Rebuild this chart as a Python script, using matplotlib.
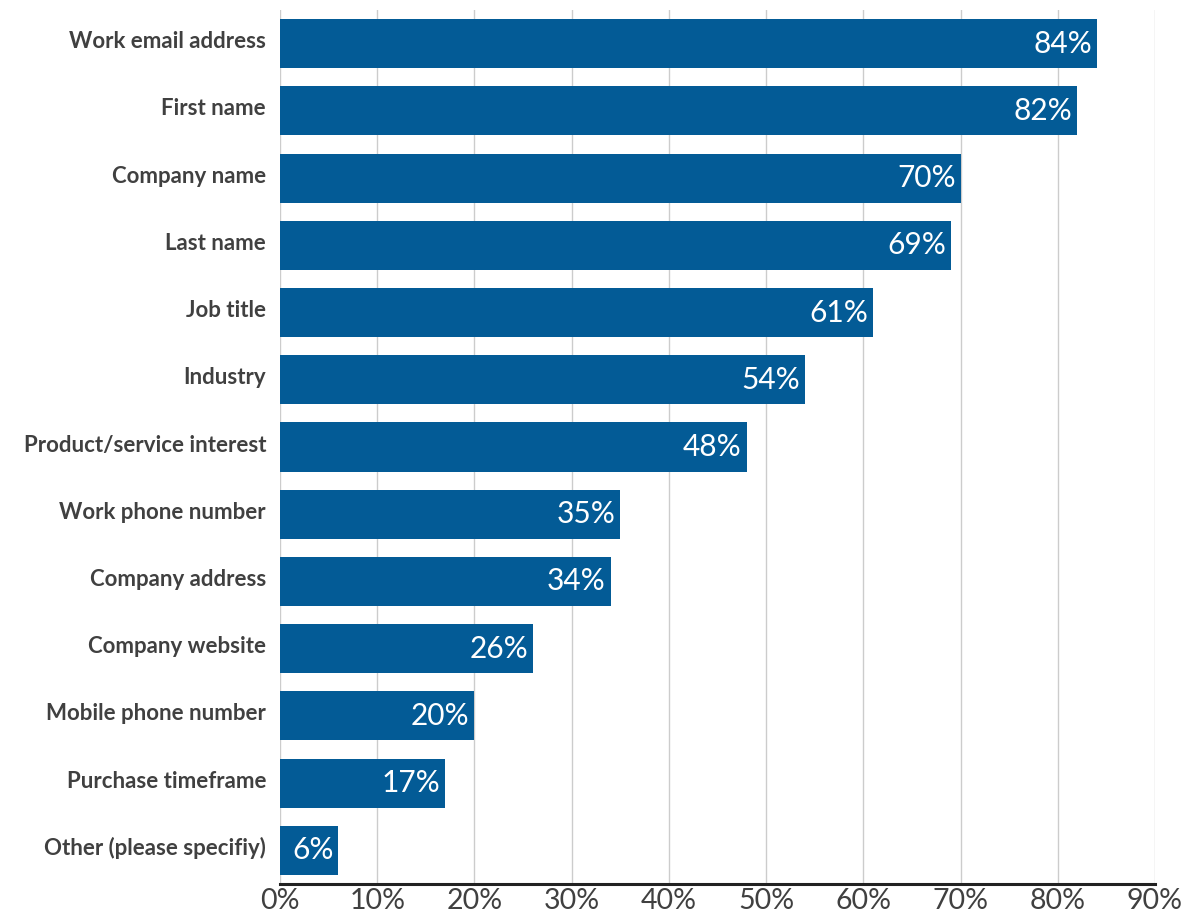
import matplotlib
matplotlib.use("Agg")
import matplotlib.pyplot as plt
import matplotlib.transforms as mtrans
from matplotlib.ticker import MultipleLocator, FuncFormatter

categories = [
    "Work email address", "First name", "Company name", "Last name",
    "Job title", "Industry", "Product/service interest", "Work phone number",
    "Company address", "Company website", "Mobile phone number",
    "Purchase timeframe", "Other (please specifiy)",
]
values = [84, 82, 70, 69, 61, 54, 48, 35, 34, 26, 20, 17, 6]

plt.rcParams["font.family"] = ["Lato", "DejaVu Sans"]

W, H = 1196, 917
fig = plt.figure(figsize=(W / 100, H / 100), dpi=100)
ax = fig.add_axes([280 / W, 33 / H, (1155 - 280) / W, (884 - 10) / H])

pos = list(range(len(categories)))
ax.barh(pos, values, height=0.73, color="#035b96", zorder=2)
ax.set_ylim(12.5, -0.5)
ax.set_xlim(0, 90)

for y, v in zip(pos, values):
    ax.text(v - 0.5, y, f"{v}%", ha="right", va="center", color="white",
            fontsize=21.5, zorder=3)

ax.set_yticks(pos)
ax.set_yticklabels(categories, fontsize=16, fontweight="bold", color="#404040")
ax.tick_params(axis="y", length=0, pad=10)
# labels sit a little above bar centre in the original
shift = mtrans.ScaledTranslation(0, 4 / 100, fig.dpi_scale_trans)
for lbl in ax.get_yticklabels():
    lbl.set_transform(lbl.get_transform() + shift)

ax.xaxis.set_major_locator(MultipleLocator(10))
ax.xaxis.set_major_formatter(FuncFormatter(lambda x, _: f"{x:.0f}%"))
ax.tick_params(axis="x", length=0, labelsize=20.5, labelcolor="#404040", pad=3)

ax.grid(axis="x", color="#cccccc", linewidth=1, zorder=0)
for s in ["top", "right", "left"]:
    ax.spines[s].set_visible(False)
ax.spines["bottom"].set_color("#222222")
ax.spines["bottom"].set_linewidth(2.2)
ax.spines["bottom"].set_zorder(4)

fig.savefig("out.png", dpi=100)
